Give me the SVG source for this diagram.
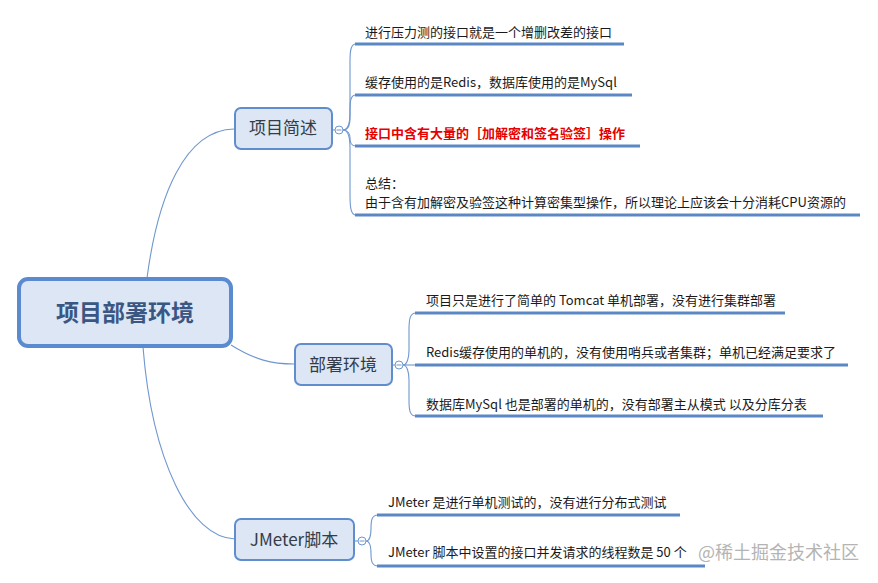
<svg xmlns="http://www.w3.org/2000/svg" width="878" height="583" viewBox="0 0 878 583">
<style>
.bg{fill:#ffffff}
.root rect{fill:#dce6f4;stroke:#5a8acf;stroke-width:4}
.node rect{fill:#dce6f4;stroke:#5f8dcd;stroke-width:2}
.root text{font-family:"Noto Sans CJK SC","Microsoft YaHei",sans-serif;font-size:23px;font-weight:bold;fill:#3a5784;text-anchor:middle}
.node text{font-family:"Noto Sans CJK SC",sans-serif;font-size:17px;fill:#333c48;text-anchor:middle}
.conn path,.conn line{fill:none;stroke:#6f97cf;stroke-width:1.1}
.toggle{fill:#ffffff;stroke:#6f97cf;stroke-width:1}
.toggle-bar{stroke:#6f97cf;stroke-width:1}
.ul{stroke:#5b87c4;stroke-width:3;stroke-linecap:butt}
.t{font-family:"Noto Sans CJK SC",sans-serif;font-size:13px;fill:#1a1a1a}
.red{fill:#e60000;font-weight:bold}
.wm{font-family:"Noto Sans CJK SC",sans-serif;font-size:18px;fill:#b4b4b4}
</style>
<rect class="bg" x="0" y="0" width="878" height="583"/>

<g id="connectors" class="conn">
  <path d="M147,278 C158,195 185,130 234,129"/>
  <path d="M231,345 C255,360 272,364 294,364"/>
  <path d="M143,347 C152,460 190,538 235,539"/>
  <line x1="332" y1="130" x2="335" y2="130"/>
  <path d="M343,130 C348,130 350,122 350,112 L350,62 C350,50 351,44 356,44"/>
  <path d="M343,130 C348,130 350,125 350,118 L350,110 C350,100 351,95 356,95"/>
  <path d="M343,130 C348,130 350,134 350,138 C350,143 351,146 356,146"/>
  <path d="M343,130 C348,130 350,138 350,148 L350,195 C350,208 351,215 356,215"/>
  <line x1="392" y1="365" x2="395" y2="365"/>
  <path d="M403,365 C407,365 409,358 409,350 L409,330 C409,319 410,313 416,313"/>
  <path d="M403,365 L416,365"/>
  <path d="M403,365 C407,365 409,372 409,380 L409,400 C409,411 410,416 416,416"/>
  <line x1="354" y1="541" x2="358" y2="541"/>
  <path d="M366,541 C370,541 371,535 371,528 C371,520 372,515 378,515"/>
  <path d="M366,541 C370,541 371,547 371,554 C371,561 372,566 378,566"/>
</g>

<g id="root" class="root">
  <rect x="19" y="279" width="212" height="67" rx="9"/>
  <text x="125" y="321">项目部署环境</text>
</g>

<g id="node-overview" class="node">
  <rect x="235" y="108" width="97" height="41" rx="6"/>
  <text x="283" y="134">项目简述</text>
  <circle class="toggle" cx="339" cy="130" r="4"/>
  <line class="toggle-bar" x1="336.5" y1="130" x2="341.5" y2="130"/>
</g>

<g id="node-deploy" class="node">
  <rect x="295" y="344" width="97" height="41" rx="6"/>
  <text x="343" y="371">部署环境</text>
  <circle class="toggle" cx="399" cy="365" r="4"/>
  <line class="toggle-bar" x1="396.5" y1="365" x2="401.5" y2="365"/>
</g>

<g id="node-jmeter" class="node">
  <rect x="235" y="519" width="119" height="41" rx="6"/>
  <text x="294" y="546">JMeter脚本</text>
  <circle class="toggle" cx="362" cy="541" r="4"/>
  <line class="toggle-bar" x1="359.5" y1="541" x2="364.5" y2="541"/>
</g>

<g id="leaf-o1">
  <text class="t" x="365" y="37">进行压力测的接口就是一个增删改差的接口</text>
  <line class="ul" x1="355" y1="44" x2="624" y2="44"/>
</g>
<g id="leaf-o2">
  <text class="t" x="365" y="87">缓存使用的是Redis，数据库使用的是MySql</text>
  <line class="ul" x1="355" y1="95" x2="632" y2="95"/>
</g>
<g id="leaf-o3">
  <text class="t red" x="365" y="138">接口中含有大量的［加解密和签名验签］操作</text>
  <line class="ul" x1="355" y1="146" x2="640" y2="146"/>
</g>
<g id="leaf-o4">
  <text class="t" x="365" y="188">总结：</text>
  <text class="t" x="365" y="207">由于含有加解密及验签这种计算密集型操作，所以理论上应该会十分消耗CPU资源的</text>
  <line class="ul" x1="355" y1="215" x2="860" y2="215"/>
</g>

<g id="leaf-d1">
  <text class="t" x="426" y="305">项目只是进行了简单的 Tomcat 单机部署，没有进行集群部署</text>
  <line class="ul" x1="415" y1="313" x2="785" y2="313"/>
</g>
<g id="leaf-d2">
  <text class="t" x="426" y="357">Redis缓存使用的单机的，没有使用哨兵或者集群；单机已经满足要求了</text>
  <line class="ul" x1="415" y1="365" x2="848" y2="365"/>
</g>
<g id="leaf-d3">
  <text class="t" x="426" y="409">数据库MySql 也是部署的单机的，没有部署主从模式 以及分库分表</text>
  <line class="ul" x1="415" y1="416" x2="823" y2="416"/>
</g>

<g id="leaf-j1">
  <text class="t" x="388" y="507">JMeter 是进行单机测试的，没有进行分布式测试</text>
  <line class="ul" x1="377" y1="515" x2="680" y2="515"/>
</g>
<g id="leaf-j2">
  <text class="t" x="388" y="557">JMeter 脚本中设置的接口并发请求的线程数是 50 个</text>
  <line class="ul" x1="377" y1="566" x2="705" y2="566"/>
</g>

<text class="wm" x="698" y="559">@稀土掘金技术社区</text>
</svg>
